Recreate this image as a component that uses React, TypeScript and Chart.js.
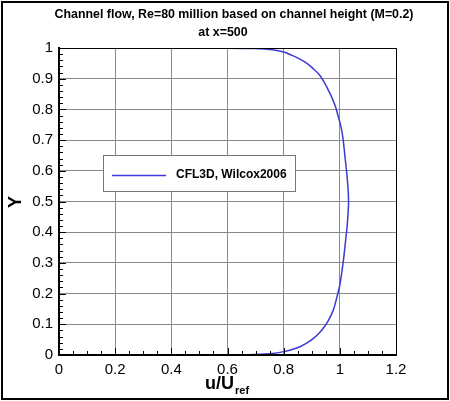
import { useEffect, useRef } from "react";
import { Chart, registerables } from "chart.js";

Chart.register(...registerables);

// velocity profile across the channel
const yValues = [
  0, 0.0003, 0.001, 0.002, 0.005, 0.011, 0.018, 0.027, 0.04, 0.054, 0.07,
  0.087, 0.11, 0.147, 0.19, 0.228, 0.27, 0.31, 0.36, 0.41, 0.45, 0.48, 0.5,
  0.52, 0.55, 0.59, 0.64, 0.7, 0.74, 0.775, 0.81, 0.84, 0.87, 0.894, 0.915,
  0.932, 0.95, 0.964, 0.976, 0.987, 0.994, 0.998, 0.9995, 1,
];
const uValues = [
  0, 0.5, 0.62, 0.7, 0.76, 0.8, 0.83, 0.858, 0.885, 0.906, 0.925, 0.941,
  0.958, 0.977, 0.99, 1.0, 1.007, 1.013, 1.019, 1.025, 1.0285, 1.0305, 1.031,
  1.0305, 1.0285, 1.025, 1.019, 1.012, 1.005, 0.995, 0.984, 0.971, 0.955,
  0.941, 0.925, 0.906, 0.883, 0.858, 0.83, 0.8, 0.76, 0.7, 0.6, 0,
];
const seriesLabel = "CFL3D, Wilcox2006";
const titleLines = [
  "Channel flow, Re=80 million based on channel height (M=0.2)",
  "at x=500",
];
const xTicks = [0, 0.2, 0.4, 0.6, 0.8, 1, 1.2];
const yTicks = [0, 0.1, 0.2, 0.3, 0.4, 0.5, 0.6, 0.7, 0.8, 0.9, 1];

const LINE_COLOR = "#3b3bd6";
const FONT = "'Liberation Sans', Arial, Helvetica, sans-serif";

const decorPlugin = {
  id: "decor",
  beforeDraw(chart: any) {
    const { ctx, width, height } = chart;
    ctx.save();
    ctx.fillStyle = "#fff";
    ctx.fillRect(0, 0, width, height);
    ctx.restore();
  },
  afterDraw(chart: any) {
    const { ctx, chartArea: a, width, height } = chart;
    const xs = chart.scales.x;
    const ys = chart.scales.y;
    ctx.save();

    // bottom axis line over the curve, as in the original
    ctx.strokeStyle = "#000";
    ctx.lineWidth = 2;
    ctx.beginPath();
    ctx.moveTo(a.left - 1, a.bottom);
    ctx.lineTo(a.right + 1, a.bottom);
    ctx.stroke();

    // inward ticks, major and minor
    ctx.lineWidth = 1;
    ctx.beginPath();
    for (let i = 0; i <= 24; i++) {
      const px = Math.round(xs.getPixelForValue(i * 0.05)) + 0.5;
      const len = i % 4 === 0 ? 7 : 4;
      ctx.moveTo(px, a.bottom);
      ctx.lineTo(px, a.bottom - len);
    }
    for (let i = 0; i <= 50; i++) {
      const py = Math.round(ys.getPixelForValue(i * 0.02)) + 0.5;
      const len = i % 5 === 0 ? 7 : 4;
      ctx.moveTo(a.left, py);
      ctx.lineTo(a.left + len, py);
    }
    ctx.stroke();

    // top and right sides of the plot box
    ctx.beginPath();
    ctx.moveTo(a.left, a.top + 0.5);
    ctx.lineTo(a.right + 0.5, a.top + 0.5);
    ctx.lineTo(a.right + 0.5, a.bottom);
    ctx.stroke();

    // legend
    const lx = 103, ly = 155, lw = 192, lh = 36;
    ctx.fillStyle = "#fff";
    ctx.fillRect(lx, ly, lw, lh);
    ctx.strokeStyle = "#777";
    ctx.strokeRect(lx + 0.5, ly + 0.5, lw, lh);
    ctx.strokeStyle = LINE_COLOR;
    ctx.lineWidth = 1.5;
    ctx.beginPath();
    ctx.moveTo(112, ly + 20.5);
    ctx.lineTo(166, ly + 20.5);
    ctx.stroke();
    ctx.fillStyle = "#000";
    ctx.font = `bold 12px ${FONT}`;
    ctx.textBaseline = "middle";
    ctx.textAlign = "left";
    ctx.fillText(seriesLabel, 176, ly + 20);

    // titles
    ctx.textAlign = "center";
    ctx.font = `bold 12.4px ${FONT}`;
    ctx.fillText(titleLines[0], 234, 15);
    ctx.fillText(titleLines[1], 223, 33);

    // axis titles
    ctx.font = `bold 18px ${FONT}`;
    ctx.textAlign = "left";
    ctx.fillText("u/U", 205, 384);
    const w = ctx.measureText("u/U").width;
    ctx.font = `bold 11px ${FONT}`;
    ctx.fillText("ref", 206 + w, 391);

    ctx.save();
    ctx.translate(16, 202);
    ctx.rotate(-Math.PI / 2);
    ctx.textAlign = "center";
    ctx.font = `bold 18px ${FONT}`;
    ctx.fillText("Y", 0, 0);
    ctx.restore();

    // outer frame
    ctx.strokeStyle = "#000";
    ctx.lineWidth = 2;
    ctx.strokeRect(2, 2, width - 4, height - 4);
    ctx.restore();
  },
};

export default function App() {
  const canvasRef = useRef<HTMLCanvasElement | null>(null);

  useEffect(() => {
    document.body.style.margin = "0";
    if (!canvasRef.current) return;
    const ctx = canvasRef.current.getContext("2d");
    if (!ctx) return;

    const chart = new Chart(ctx, {
      type: "scatter",
      data: {
        datasets: [
          {
            label: seriesLabel,
            data: uValues.map((u, i) => ({ x: u, y: yValues[i] })),
            showLine: true,
            borderColor: LINE_COLOR,
            borderWidth: 1.5,
            pointRadius: 0,
            tension: 0.3,
          },
        ],
      },
      options: {
        animation: false,
        responsive: true,
        maintainAspectRatio: false,
        layout: { padding: { top: 48, right: 54, left: 0, bottom: 0 } },
        plugins: {
          legend: { display: false },
          tooltip: { enabled: false },
        },
        scales: {
          x: {
            type: "linear",
            min: 0,
            max: 1.2,
            afterFit: (s: any) => {
              s.height = 46;
            },
            afterBuildTicks: (s: any) => {
              s.ticks = xTicks.map((v) => ({ value: v }));
            },
            grid: { color: "#8a8a8a", lineWidth: 1, drawTicks: false },
            border: { display: true, color: "#000", width: 2 },
            ticks: {
              padding: 6,
              color: "#000",
              font: { family: FONT, size: 15 },
              callback: (v: any) => String(Math.round(Number(v) * 10) / 10),
            },
          },
          y: {
            type: "linear",
            min: 0,
            max: 1,
            afterFit: (s: any) => {
              s.width = 59;
            },
            afterBuildTicks: (s: any) => {
              s.ticks = yTicks.map((v) => ({ value: v }));
            },
            grid: { color: "#8a8a8a", lineWidth: 1, drawTicks: false },
            border: { display: true, color: "#000", width: 2 },
            ticks: {
              padding: 6,
              color: "#000",
              font: { family: FONT, size: 15 },
              callback: (v: any) => String(Math.round(Number(v) * 10) / 10),
            },
          },
        },
      },
      plugins: [decorPlugin],
    });

    return () => chart.destroy();
  }, []);

  return (
    <div style={{ position: "relative", width: 450, height: 401 }}>
      <canvas ref={canvasRef} />
    </div>
  );
}
